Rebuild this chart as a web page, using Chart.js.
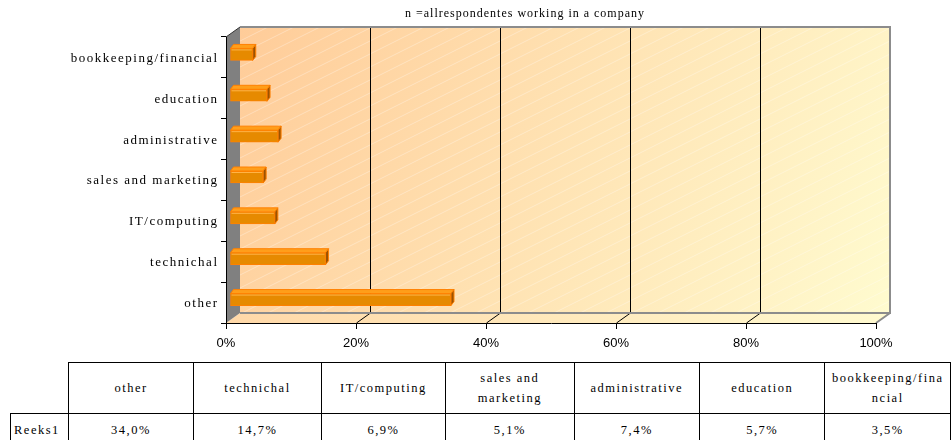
<!DOCTYPE html>
<html>
<head>
<meta charset="utf-8">
<script src="https://cdn.jsdelivr.net/npm/chart.js@4.4.1/dist/chart.umd.min.js"></script>
<style>
	html, body { margin: 0; padding: 0; background: #fff; }
	#wrap { position: relative; width: 951px; height: 440px; overflow: hidden; }
	#chart { position: absolute; left: 0; top: 0; }
	#table { position: absolute; left: 10px; top: 362px; border-collapse: collapse; table-layout: fixed;
		font-family: "Liberation Serif", "Times New Roman", serif; font-size: 12.5px; color: #000; }
	#table td { border: 1px solid #000; text-align: center; padding: 0 3px; letter-spacing: 1.5px;
		overflow-wrap: anywhere; line-height: 20px; }
	#table tr.head td { height: 50px; }
	#table tr.vals td { height: 27px; padding-top: 2px; }
	#table td.corner { border-top: none; border-left: none; }
	#table td.series { text-align: left; padding-left: 3px; }
</style>
</head>
<body>
<div id="wrap">
	<canvas id="chart" width="951" height="360"></canvas>
	<table id="table"></table>
</div>
<script>
// data, in the order of the data table (first one sits at the bottom of the chart)
const categories = ['other', 'technichal', 'IT/computing', 'sales and marketing', 'administrative', 'education', 'bookkeeping/financial'];
const values = [34.0, 14.7, 6.9, 5.1, 7.4, 5.7, 3.5];
const seriesName = 'Reeks1';
const xTicks = [0, 20, 40, 60, 80, 100];
const title = 'n =allrespondentes working in a company';

const DX = 14, DY = -10;   // depth of the walls
const BX = 3, BY = -4;     // depth of one bar
const SHIFT_X = 4, SHIFT_Y = -3;

// Back wall, floor, side wall and back grid lines
const walls = {
	id: 'walls',
	beforeDraw(chart) {
		const { ctx, chartArea: a, scales: { x } } = chart;
		const bl = a.left + DX, br = a.right + DX, bt = a.top + DY, bb = a.bottom + DY;
		ctx.save();
		let g = ctx.createLinearGradient(bl, bt, br, bb);
		g.addColorStop(0, '#FFCC99');
		g.addColorStop(1, '#FFFBCF');
		ctx.fillStyle = g;
		ctx.fillRect(bl, bt, br - bl, bb - bt);

		// faint diagonal pattern
		ctx.save();
		ctx.beginPath();
		ctx.rect(bl, bt, br - bl, bb - bt);
		ctx.clip();
		ctx.strokeStyle = 'rgba(255,255,255,0.3)';
		ctx.lineWidth = 1;
		for (let i = bl - 700; i < br; i += 26) {
			ctx.beginPath();
			ctx.moveTo(i, bb);
			ctx.lineTo(i + 700, bb - 350);
			ctx.stroke();
		}
		ctx.restore();

		// floor
		g = ctx.createLinearGradient(a.left, 0, br, 0);
		g.addColorStop(0, '#FFD8A8');
		g.addColorStop(1, '#FFFAD0');
		ctx.fillStyle = g;
		ctx.beginPath();
		ctx.moveTo(a.left, a.bottom);
		ctx.lineTo(a.right, a.bottom);
		ctx.lineTo(br, bb);
		ctx.lineTo(bl, bb);
		ctx.closePath();
		ctx.fill();

		// grid lines on the back wall and the floor
		ctx.strokeStyle = '#000';
		ctx.lineWidth = 1;
		xTicks.filter(v => v > 0 && v < 100).forEach(v => {
			const px = Math.round(x.getPixelForValue(v)) + 0.5;
			ctx.beginPath();
			ctx.moveTo(px + DX, bt);
			ctx.lineTo(px + DX, bb);
			ctx.moveTo(px, a.bottom);
			ctx.lineTo(px + DX, bb);
			ctx.stroke();
		});

		// wall border
		ctx.strokeStyle = '#8C8C8C';
		ctx.lineWidth = 2;
		ctx.beginPath();
		ctx.moveTo(bl, bt);
		ctx.lineTo(br, bt);
		ctx.lineTo(br, bb);
		ctx.lineTo(bl, bb);
		ctx.moveTo(br, bb);
		ctx.lineTo(a.right, a.bottom);
		ctx.stroke();

		// left side wall
		ctx.fillStyle = '#808080';
		ctx.beginPath();
		ctx.moveTo(a.left, a.top);
		ctx.lineTo(bl, bt);
		ctx.lineTo(bl, bb);
		ctx.lineTo(a.left, a.bottom);
		ctx.closePath();
		ctx.fill();
		ctx.strokeStyle = '#333';
		ctx.lineWidth = 1;
		ctx.beginPath();
		ctx.moveTo(a.left, a.top);
		ctx.lineTo(bl, bt);
		ctx.stroke();
		ctx.restore();
	},
	beforeDatasetsDraw(chart) {
		chart.ctx.save();
		chart.ctx.translate(SHIFT_X, SHIFT_Y);
	},
	afterDatasetsDraw(chart) {
		const ctx = chart.ctx;
		chart.getDatasetMeta(0).data.forEach(bar => {
			const { x: xe, y, base, height } = bar.getProps(['x', 'y', 'base', 'height'], true);
			const top = y - height / 2;
			// top face
			ctx.fillStyle = '#FF9E1A';
			ctx.strokeStyle = '#FF8000';
			ctx.lineWidth = 1;
			ctx.beginPath();
			ctx.moveTo(base, top);
			ctx.lineTo(xe, top);
			ctx.lineTo(xe + BX, top + BY);
			ctx.lineTo(base + BX, top + BY);
			ctx.closePath();
			ctx.fill();
			ctx.stroke();
			// end face
			ctx.fillStyle = '#9C5200';
			ctx.beginPath();
			ctx.moveTo(xe, top);
			ctx.lineTo(xe + BX, top + BY);
			ctx.lineTo(xe + BX, top + BY + height);
			ctx.lineTo(xe, top + height);
			ctx.closePath();
			ctx.fill();
			ctx.stroke();
			// highlight on the front face
			ctx.strokeStyle = '#FFB347';
			ctx.beginPath();
			ctx.moveTo(base + 1, top + 1.5);
			ctx.lineTo(xe - 1, top + 1.5);
			ctx.stroke();
		});
		ctx.restore();
	},
	afterDraw(chart) {
		const { ctx, chartArea: a, scales: { y } } = chart;
		ctx.save();
		ctx.fillStyle = '#000';
		ctx.letterSpacing = '1.5px';
		ctx.font = '13px "Liberation Serif", "Times New Roman", serif';
		ctx.textAlign = 'right';
		ctx.textBaseline = 'middle';
		categories.forEach((c, i) => ctx.fillText(c, a.left - 7.5, y.getPixelForTick(i) + 1));
		ctx.letterSpacing = '1px';
		ctx.font = '12px "Liberation Serif", "Times New Roman", serif';
		ctx.textAlign = 'center';
		ctx.fillText(title, 525, 14);
		ctx.restore();
	}
};

new Chart(document.getElementById('chart'), {
	type: 'bar',
	data: {
		labels: categories,
		datasets: [{
			label: seriesName,
			data: values,
			backgroundColor: '#E68A00',
			borderColor: '#FF8000',
			borderWidth: 1,
			borderSkipped: false,
			barThickness: 12
		}]
	},
	options: {
		indexAxis: 'y',
		responsive: false,
		animation: false,
		events: [],
		layout: { padding: { left: 206, right: 75, top: 37, bottom: 0 } },
		plugins: { legend: { display: false }, tooltip: { enabled: false }, title: { display: false } },
		scales: {
			x: {
				min: 0, max: 100,
				afterBuildTicks: s => { s.ticks = xTicks.map(v => ({ value: v })); },
				afterFit: s => { s.height = 37; },
				grid: { drawOnChartArea: false, tickLength: 6, color: '#000' },
				border: { display: true, color: '#000' },
				ticks: {
					padding: 7, color: '#000',
					font: { family: '"Liberation Sans", Arial, sans-serif', size: 13 },
					callback: v => v + '%'
				}
			},
			y: {
				reverse: true,
				afterFit: s => { s.width = 20; },
				grid: { drawOnChartArea: false, tickLength: 5, color: '#000', offset: true },
				border: { display: true, color: '#000' },
				ticks: { display: false }
			}
		}
	},
	plugins: [walls]
});

// data table under the chart
const table = document.getElementById('table');
const widths = [58, 126, 128, 125, 129, 126, 126, 126];
table.innerHTML =
	'<colgroup>' + widths.map(w => `<col style="width:${w}px">`).join('') + '</colgroup>' +
	'<tr class="head"><td class="corner"></td>' + categories.map(c => `<td>${c}</td>`).join('') + '</tr>' +
	`<tr class="vals"><td class="series">${seriesName}</td>` +
	values.map(v => `<td>${v.toFixed(1).replace('.', ',')}%</td>`).join('') + '</tr>';
</script>
</body>
</html>
